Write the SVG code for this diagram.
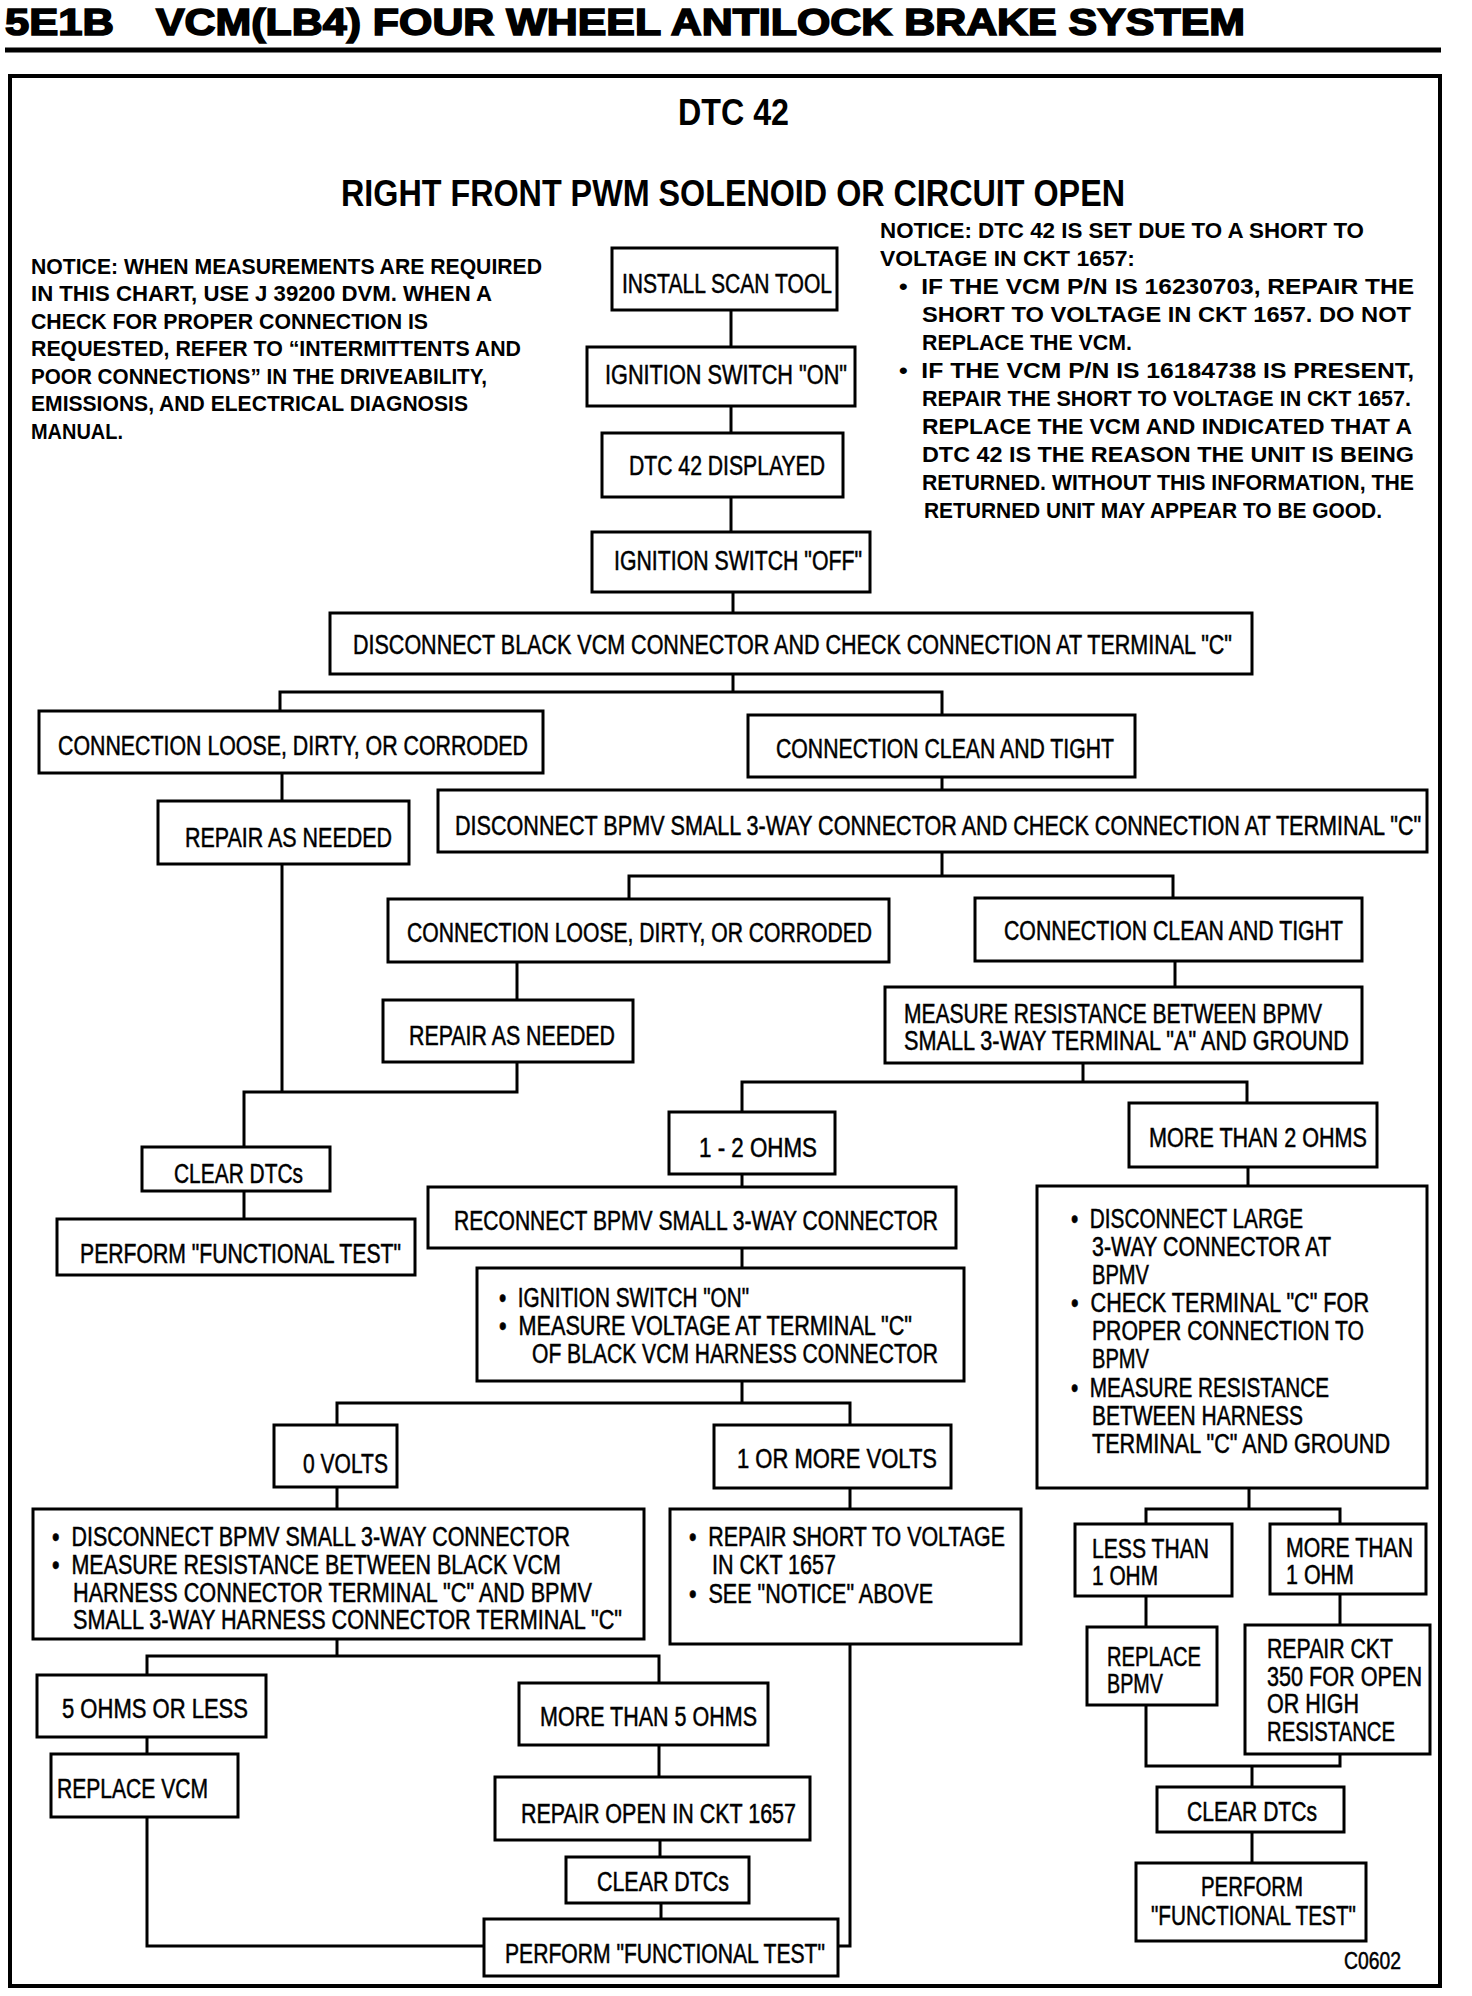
<svg xmlns="http://www.w3.org/2000/svg" width="1472" height="1996" viewBox="0 0 1472 1996">
<style>
.bx{fill:#fff;stroke:#000;stroke-width:3}
.ln{fill:none;stroke:#000;stroke-width:3}
.t{font-family:"Liberation Sans",Arial,sans-serif;font-size:27px;fill:#000;stroke:#000;stroke-width:0.5}
.b{font-family:"Liberation Sans",Arial,sans-serif;font-size:22px;font-weight:bold;fill:#000}
.h{font-family:"Liberation Sans",Arial,sans-serif;font-size:37px;font-weight:bold;fill:#000}
.ti{font-family:"Liberation Sans",Arial,sans-serif;font-size:37px;font-weight:900;fill:#000;stroke:#000;stroke-width:1.6}
</style>
<rect width="1472" height="1996" fill="#fff"/>
<g id="header">
<text class="ti" x="5" y="35" textLength="109" lengthAdjust="spacingAndGlyphs">5E1B</text>
<text class="ti" x="156" y="35" textLength="1089" lengthAdjust="spacingAndGlyphs">VCM(LB4) FOUR WHEEL ANTILOCK BRAKE SYSTEM</text>
<line x1="5" y1="50" x2="1441" y2="50" stroke="#000" stroke-width="5"/>
<rect x="10" y="76" width="1430" height="1910" fill="none" stroke="#000" stroke-width="4"/>
<text class="h" x="678" y="125" textLength="111" lengthAdjust="spacingAndGlyphs">DTC 42</text>
<text class="h" x="341" y="206" textLength="784" lengthAdjust="spacingAndGlyphs">RIGHT FRONT PWM SOLENOID OR CIRCUIT OPEN</text>
</g>
<g id="notice_left">
<text class="b" x="31" y="274" textLength="511" lengthAdjust="spacingAndGlyphs">NOTICE: WHEN MEASUREMENTS ARE REQUIRED</text>
<text class="b" x="31" y="301" textLength="461" lengthAdjust="spacingAndGlyphs">IN THIS CHART, USE J 39200 DVM. WHEN A</text>
<text class="b" x="31" y="329" textLength="397" lengthAdjust="spacingAndGlyphs">CHECK FOR PROPER CONNECTION IS</text>
<text class="b" x="31" y="356" textLength="490" lengthAdjust="spacingAndGlyphs">REQUESTED, REFER TO “INTERMITTENTS AND</text>
<text class="b" x="31" y="384" textLength="456" lengthAdjust="spacingAndGlyphs">POOR CONNECTIONS” IN THE DRIVEABILITY,</text>
<text class="b" x="31" y="411" textLength="437" lengthAdjust="spacingAndGlyphs">EMISSIONS, AND ELECTRICAL DIAGNOSIS</text>
<text class="b" x="31" y="439" textLength="92" lengthAdjust="spacingAndGlyphs">MANUAL.</text>
</g>
<g id="notice_right">
<text class="b" x="880" y="238" textLength="484" lengthAdjust="spacingAndGlyphs">NOTICE: DTC 42 IS SET DUE TO A SHORT TO</text>
<text class="b" x="880" y="266" textLength="255" lengthAdjust="spacingAndGlyphs">VOLTAGE IN CKT 1657:</text>
<text class="b" x="899" y="294" textLength="515" lengthAdjust="spacingAndGlyphs">•&#160;&#160;IF THE VCM P/N IS 16230703, REPAIR THE</text>
<text class="b" x="922" y="322" textLength="489" lengthAdjust="spacingAndGlyphs">SHORT TO VOLTAGE IN CKT 1657. DO NOT</text>
<text class="b" x="922" y="350" textLength="210" lengthAdjust="spacingAndGlyphs">REPLACE THE VCM.</text>
<text class="b" x="899" y="378" textLength="515" lengthAdjust="spacingAndGlyphs">•&#160;&#160;IF THE VCM P/N IS 16184738 IS PRESENT,</text>
<text class="b" x="922" y="406" textLength="489" lengthAdjust="spacingAndGlyphs">REPAIR THE SHORT TO VOLTAGE IN CKT 1657.</text>
<text class="b" x="922" y="434" textLength="490" lengthAdjust="spacingAndGlyphs">REPLACE THE VCM AND INDICATED THAT A</text>
<text class="b" x="922" y="462" textLength="492" lengthAdjust="spacingAndGlyphs">DTC 42 IS THE REASON THE UNIT IS BEING</text>
<text class="b" x="922" y="490" textLength="492" lengthAdjust="spacingAndGlyphs">RETURNED. WITHOUT THIS INFORMATION, THE</text>
<text class="b" x="924" y="518" textLength="458" lengthAdjust="spacingAndGlyphs">RETURNED UNIT MAY APPEAR TO BE GOOD.</text>
</g>
<g id="connectors">
<polyline class="ln" points="731,310 731,347"/>
<polyline class="ln" points="731,406 731,433"/>
<polyline class="ln" points="731,497 731,532"/>
<polyline class="ln" points="733,592 733,613"/>
<polyline class="ln" points="733,674 733,692"/>
<polyline class="ln" points="280,711 280,692 942,692 942,715"/>
<polyline class="ln" points="282,773 282,801"/>
<polyline class="ln" points="942,777 942,790"/>
<polyline class="ln" points="942,852 942,876"/>
<polyline class="ln" points="629,899 629,876 1173,876 1173,898"/>
<polyline class="ln" points="517,962 517,1000"/>
<polyline class="ln" points="1175,961 1175,987"/>
<polyline class="ln" points="282,864 282,1092"/>
<polyline class="ln" points="517,1062 517,1092 244,1092 244,1147"/>
<polyline class="ln" points="244,1191 244,1219"/>
<polyline class="ln" points="1083,1063 1083,1082"/>
<polyline class="ln" points="742,1112 742,1082 1247,1082 1247,1103"/>
<polyline class="ln" points="742,1174 742,1187"/>
<polyline class="ln" points="742,1248 742,1268"/>
<polyline class="ln" points="742,1381 742,1403"/>
<polyline class="ln" points="337,1425 337,1403 850,1403 850,1425"/>
<polyline class="ln" points="337,1487 337,1509"/>
<polyline class="ln" points="850,1488 850,1509"/>
<polyline class="ln" points="337,1639 337,1656"/>
<polyline class="ln" points="147,1675 147,1656 659,1656 659,1683"/>
<polyline class="ln" points="147,1737 147,1754"/>
<polyline class="ln" points="147,1817 147,1946 484,1946"/>
<polyline class="ln" points="659,1745 659,1777"/>
<polyline class="ln" points="660,1840 660,1857"/>
<polyline class="ln" points="661,1903 661,1919"/>
<polyline class="ln" points="850,1644 850,1946 838,1946"/>
<polyline class="ln" points="1248,1167 1248,1186"/>
<polyline class="ln" points="1249,1488 1249,1509"/>
<polyline class="ln" points="1146,1524 1146,1509 1340,1509 1340,1524"/>
<polyline class="ln" points="1146,1596 1146,1627"/>
<polyline class="ln" points="1340,1594 1340,1625"/>
<polyline class="ln" points="1146,1705 1146,1766 1340,1766 1340,1754"/>
<polyline class="ln" points="1252,1766 1252,1787"/>
<polyline class="ln" points="1252,1832 1252,1863"/>
</g>
<g id="n_install"><rect class="bx" x="612" y="248" width="225" height="62"/>
<text class="t" x="622" y="293" textLength="210" lengthAdjust="spacingAndGlyphs">INSTALL SCAN TOOL</text></g>
<g id="n_ign_on"><rect class="bx" x="587" y="347" width="268" height="59"/>
<text class="t" x="605" y="384" textLength="242" lengthAdjust="spacingAndGlyphs">IGNITION SWITCH "ON"</text></g>
<g id="n_dtc_disp"><rect class="bx" x="602" y="433" width="241" height="64"/>
<text class="t" x="629" y="475" textLength="196" lengthAdjust="spacingAndGlyphs">DTC 42 DISPLAYED</text></g>
<g id="n_ign_off"><rect class="bx" x="592" y="532" width="278" height="60"/>
<text class="t" x="614" y="570" textLength="248" lengthAdjust="spacingAndGlyphs">IGNITION SWITCH "OFF"</text></g>
<g id="n_disc_black"><rect class="bx" x="330" y="613" width="922" height="61"/>
<text class="t" x="353" y="654" textLength="879" lengthAdjust="spacingAndGlyphs">DISCONNECT BLACK VCM CONNECTOR AND CHECK CONNECTION AT TERMINAL "C"</text></g>
<g id="n_loose1"><rect class="bx" x="39" y="711" width="504" height="62"/>
<text class="t" x="58" y="755" textLength="470" lengthAdjust="spacingAndGlyphs">CONNECTION LOOSE, DIRTY, OR CORRODED</text></g>
<g id="n_clean1"><rect class="bx" x="748" y="715" width="387" height="62"/>
<text class="t" x="776" y="758" textLength="338" lengthAdjust="spacingAndGlyphs">CONNECTION CLEAN AND TIGHT</text></g>
<g id="n_repair1"><rect class="bx" x="158" y="801" width="251" height="63"/>
<text class="t" x="185" y="847" textLength="207" lengthAdjust="spacingAndGlyphs">REPAIR AS NEEDED</text></g>
<g id="n_disc_bpmv"><rect class="bx" x="438" y="790" width="989" height="62"/>
<text class="t" transform="matrix(0.80 0 0 1 455 835)" x="0" y="0">DISCONNECT BPMV SMALL 3-WAY CONNECTOR AND CHECK CONNECTION AT TERMINAL "C"</text></g>
<g id="n_loose2"><rect class="bx" x="388" y="899" width="501" height="63"/>
<text class="t" x="407" y="942" textLength="465" lengthAdjust="spacingAndGlyphs">CONNECTION LOOSE, DIRTY, OR CORRODED</text></g>
<g id="n_clean2"><rect class="bx" x="975" y="898" width="387" height="63"/>
<text class="t" x="1004" y="940" textLength="339" lengthAdjust="spacingAndGlyphs">CONNECTION CLEAN AND TIGHT</text></g>
<g id="n_repair2"><rect class="bx" x="383" y="1000" width="250" height="62"/>
<text class="t" x="409" y="1045" textLength="206" lengthAdjust="spacingAndGlyphs">REPAIR AS NEEDED</text></g>
<g id="n_measure"><rect class="bx" x="885" y="987" width="477" height="76"/>
<text class="t" x="904" y="1023" textLength="418" lengthAdjust="spacingAndGlyphs">MEASURE RESISTANCE BETWEEN BPMV</text>
<text class="t" x="904" y="1050" textLength="445" lengthAdjust="spacingAndGlyphs">SMALL 3-WAY TERMINAL "A" AND GROUND</text></g>
<g id="n_clear1"><rect class="bx" x="142" y="1147" width="188" height="44"/>
<text class="t" x="174" y="1183" textLength="129" lengthAdjust="spacingAndGlyphs">CLEAR DTCs</text></g>
<g id="n_perform1"><rect class="bx" x="57" y="1219" width="358" height="56"/>
<text class="t" x="80" y="1263" textLength="321" lengthAdjust="spacingAndGlyphs">PERFORM "FUNCTIONAL TEST"</text></g>
<g id="n_1_2_ohms"><rect class="bx" x="669" y="1112" width="166" height="62"/>
<text class="t" x="699" y="1157" textLength="118" lengthAdjust="spacingAndGlyphs">1 - 2 OHMS</text></g>
<g id="n_more2"><rect class="bx" x="1129" y="1103" width="248" height="64"/>
<text class="t" x="1149" y="1147" textLength="218" lengthAdjust="spacingAndGlyphs">MORE THAN 2 OHMS</text></g>
<g id="n_reconnect"><rect class="bx" x="428" y="1187" width="528" height="61"/>
<text class="t" x="454" y="1230" textLength="484" lengthAdjust="spacingAndGlyphs">RECONNECT BPMV SMALL 3-WAY CONNECTOR</text></g>
<g id="n_ign_measure"><rect class="bx" x="477" y="1268" width="487" height="113"/>
<text class="t" x="499" y="1307" textLength="250" lengthAdjust="spacingAndGlyphs">•&#160;&#160;IGNITION SWITCH "ON"</text>
<text class="t" x="499" y="1335" textLength="413" lengthAdjust="spacingAndGlyphs">•&#160;&#160;MEASURE VOLTAGE AT TERMINAL "C"</text>
<text class="t" x="532" y="1363" textLength="406" lengthAdjust="spacingAndGlyphs">OF BLACK VCM HARNESS CONNECTOR</text></g>
<g id="n_big"><rect class="bx" x="1037" y="1186" width="390" height="302"/>
<text class="t" x="1071" y="1228" textLength="232" lengthAdjust="spacingAndGlyphs">•&#160;&#160;DISCONNECT LARGE</text>
<text class="t" x="1092" y="1256" textLength="239" lengthAdjust="spacingAndGlyphs">3-WAY CONNECTOR AT</text>
<text class="t" x="1092" y="1284" textLength="57" lengthAdjust="spacingAndGlyphs">BPMV</text>
<text class="t" x="1071" y="1312" textLength="298" lengthAdjust="spacingAndGlyphs">•&#160;&#160;CHECK TERMINAL "C" FOR</text>
<text class="t" x="1092" y="1340" textLength="272" lengthAdjust="spacingAndGlyphs">PROPER CONNECTION TO</text>
<text class="t" x="1092" y="1368" textLength="57" lengthAdjust="spacingAndGlyphs">BPMV</text>
<text class="t" x="1071" y="1397" textLength="258" lengthAdjust="spacingAndGlyphs">•&#160;&#160;MEASURE RESISTANCE</text>
<text class="t" x="1092" y="1425" textLength="211" lengthAdjust="spacingAndGlyphs">BETWEEN HARNESS</text>
<text class="t" x="1092" y="1453" textLength="298" lengthAdjust="spacingAndGlyphs">TERMINAL "C" AND GROUND</text></g>
<g id="n_0volts"><rect class="bx" x="274" y="1425" width="123" height="62"/>
<text class="t" x="303" y="1473" textLength="85" lengthAdjust="spacingAndGlyphs">0 VOLTS</text></g>
<g id="n_1more_volts"><rect class="bx" x="714" y="1425" width="237" height="63"/>
<text class="t" x="737" y="1468" textLength="200" lengthAdjust="spacingAndGlyphs">1 OR MORE VOLTS</text></g>
<g id="n_disc_bpmv2"><rect class="bx" x="33" y="1509" width="611" height="130"/>
<text class="t" x="52" y="1546" textLength="518" lengthAdjust="spacingAndGlyphs">•&#160;&#160;DISCONNECT BPMV SMALL 3-WAY CONNECTOR</text>
<text class="t" x="52" y="1574" textLength="509" lengthAdjust="spacingAndGlyphs">•&#160;&#160;MEASURE RESISTANCE BETWEEN BLACK VCM</text>
<text class="t" x="73" y="1602" textLength="519" lengthAdjust="spacingAndGlyphs">HARNESS CONNECTOR TERMINAL "C" AND BPMV</text>
<text class="t" x="73" y="1629" textLength="549" lengthAdjust="spacingAndGlyphs">SMALL 3-WAY HARNESS CONNECTOR TERMINAL "C"</text></g>
<g id="n_repair_short"><rect class="bx" x="670" y="1509" width="351" height="135"/>
<text class="t" x="689" y="1546" textLength="316" lengthAdjust="spacingAndGlyphs">•&#160;&#160;REPAIR SHORT TO VOLTAGE</text>
<text class="t" x="712" y="1574" textLength="124" lengthAdjust="spacingAndGlyphs">IN CKT 1657</text>
<text class="t" x="689" y="1603" textLength="244" lengthAdjust="spacingAndGlyphs">•&#160;&#160;SEE "NOTICE" ABOVE</text></g>
<g id="n_5ohms"><rect class="bx" x="37" y="1675" width="229" height="62"/>
<text class="t" x="62" y="1718" textLength="186" lengthAdjust="spacingAndGlyphs">5 OHMS OR LESS</text></g>
<g id="n_replace_vcm"><rect class="bx" x="51" y="1754" width="187" height="63"/>
<text class="t" x="57" y="1798" textLength="151" lengthAdjust="spacingAndGlyphs">REPLACE VCM</text></g>
<g id="n_more5"><rect class="bx" x="519" y="1683" width="249" height="62"/>
<text class="t" x="540" y="1726" textLength="217" lengthAdjust="spacingAndGlyphs">MORE THAN 5 OHMS</text></g>
<g id="n_repair_open"><rect class="bx" x="495" y="1777" width="315" height="63"/>
<text class="t" x="521" y="1823" textLength="275" lengthAdjust="spacingAndGlyphs">REPAIR OPEN IN CKT 1657</text></g>
<g id="n_clear2"><rect class="bx" x="566" y="1857" width="183" height="46"/>
<text class="t" x="597" y="1891" textLength="132" lengthAdjust="spacingAndGlyphs">CLEAR DTCs</text></g>
<g id="n_perform2"><rect class="bx" x="484" y="1919" width="354" height="57"/>
<text class="t" x="505" y="1963" textLength="320" lengthAdjust="spacingAndGlyphs">PERFORM "FUNCTIONAL TEST"</text></g>
<g id="n_less1"><rect class="bx" x="1075" y="1524" width="157" height="72"/>
<text class="t" x="1092" y="1558" textLength="117" lengthAdjust="spacingAndGlyphs">LESS THAN</text>
<text class="t" x="1092" y="1585" textLength="66" lengthAdjust="spacingAndGlyphs">1 OHM</text></g>
<g id="n_more1"><rect class="bx" x="1270" y="1524" width="156" height="70"/>
<text class="t" x="1286" y="1557" textLength="127" lengthAdjust="spacingAndGlyphs">MORE THAN</text>
<text class="t" x="1286" y="1584" textLength="68" lengthAdjust="spacingAndGlyphs">1 OHM</text></g>
<g id="n_replace_bpmv"><rect class="bx" x="1087" y="1627" width="130" height="78"/>
<text class="t" x="1107" y="1666" textLength="94" lengthAdjust="spacingAndGlyphs">REPLACE</text>
<text class="t" x="1107" y="1693" textLength="56" lengthAdjust="spacingAndGlyphs">BPMV</text></g>
<g id="n_repair_ckt"><rect class="bx" x="1245" y="1625" width="185" height="129"/>
<text class="t" x="1267" y="1658" textLength="126" lengthAdjust="spacingAndGlyphs">REPAIR CKT</text>
<text class="t" x="1267" y="1686" textLength="155" lengthAdjust="spacingAndGlyphs">350 FOR OPEN</text>
<text class="t" x="1267" y="1713" textLength="92" lengthAdjust="spacingAndGlyphs">OR HIGH</text>
<text class="t" x="1267" y="1741" textLength="128" lengthAdjust="spacingAndGlyphs">RESISTANCE</text></g>
<g id="n_clear3"><rect class="bx" x="1157" y="1787" width="187" height="45"/>
<text class="t" x="1187" y="1821" textLength="130" lengthAdjust="spacingAndGlyphs">CLEAR DTCs</text></g>
<g id="n_perform3"><rect class="bx" x="1136" y="1863" width="230" height="78"/>
<text class="t" x="1201" y="1896" textLength="102" lengthAdjust="spacingAndGlyphs">PERFORM</text>
<text class="t" x="1151" y="1925" textLength="205" lengthAdjust="spacingAndGlyphs">"FUNCTIONAL TEST"</text></g>
<g id="label_code">
<text class="t" x="1344" y="1969" textLength="57" lengthAdjust="spacingAndGlyphs" style="font-size:24px">C0602</text>
</g>
</svg>
